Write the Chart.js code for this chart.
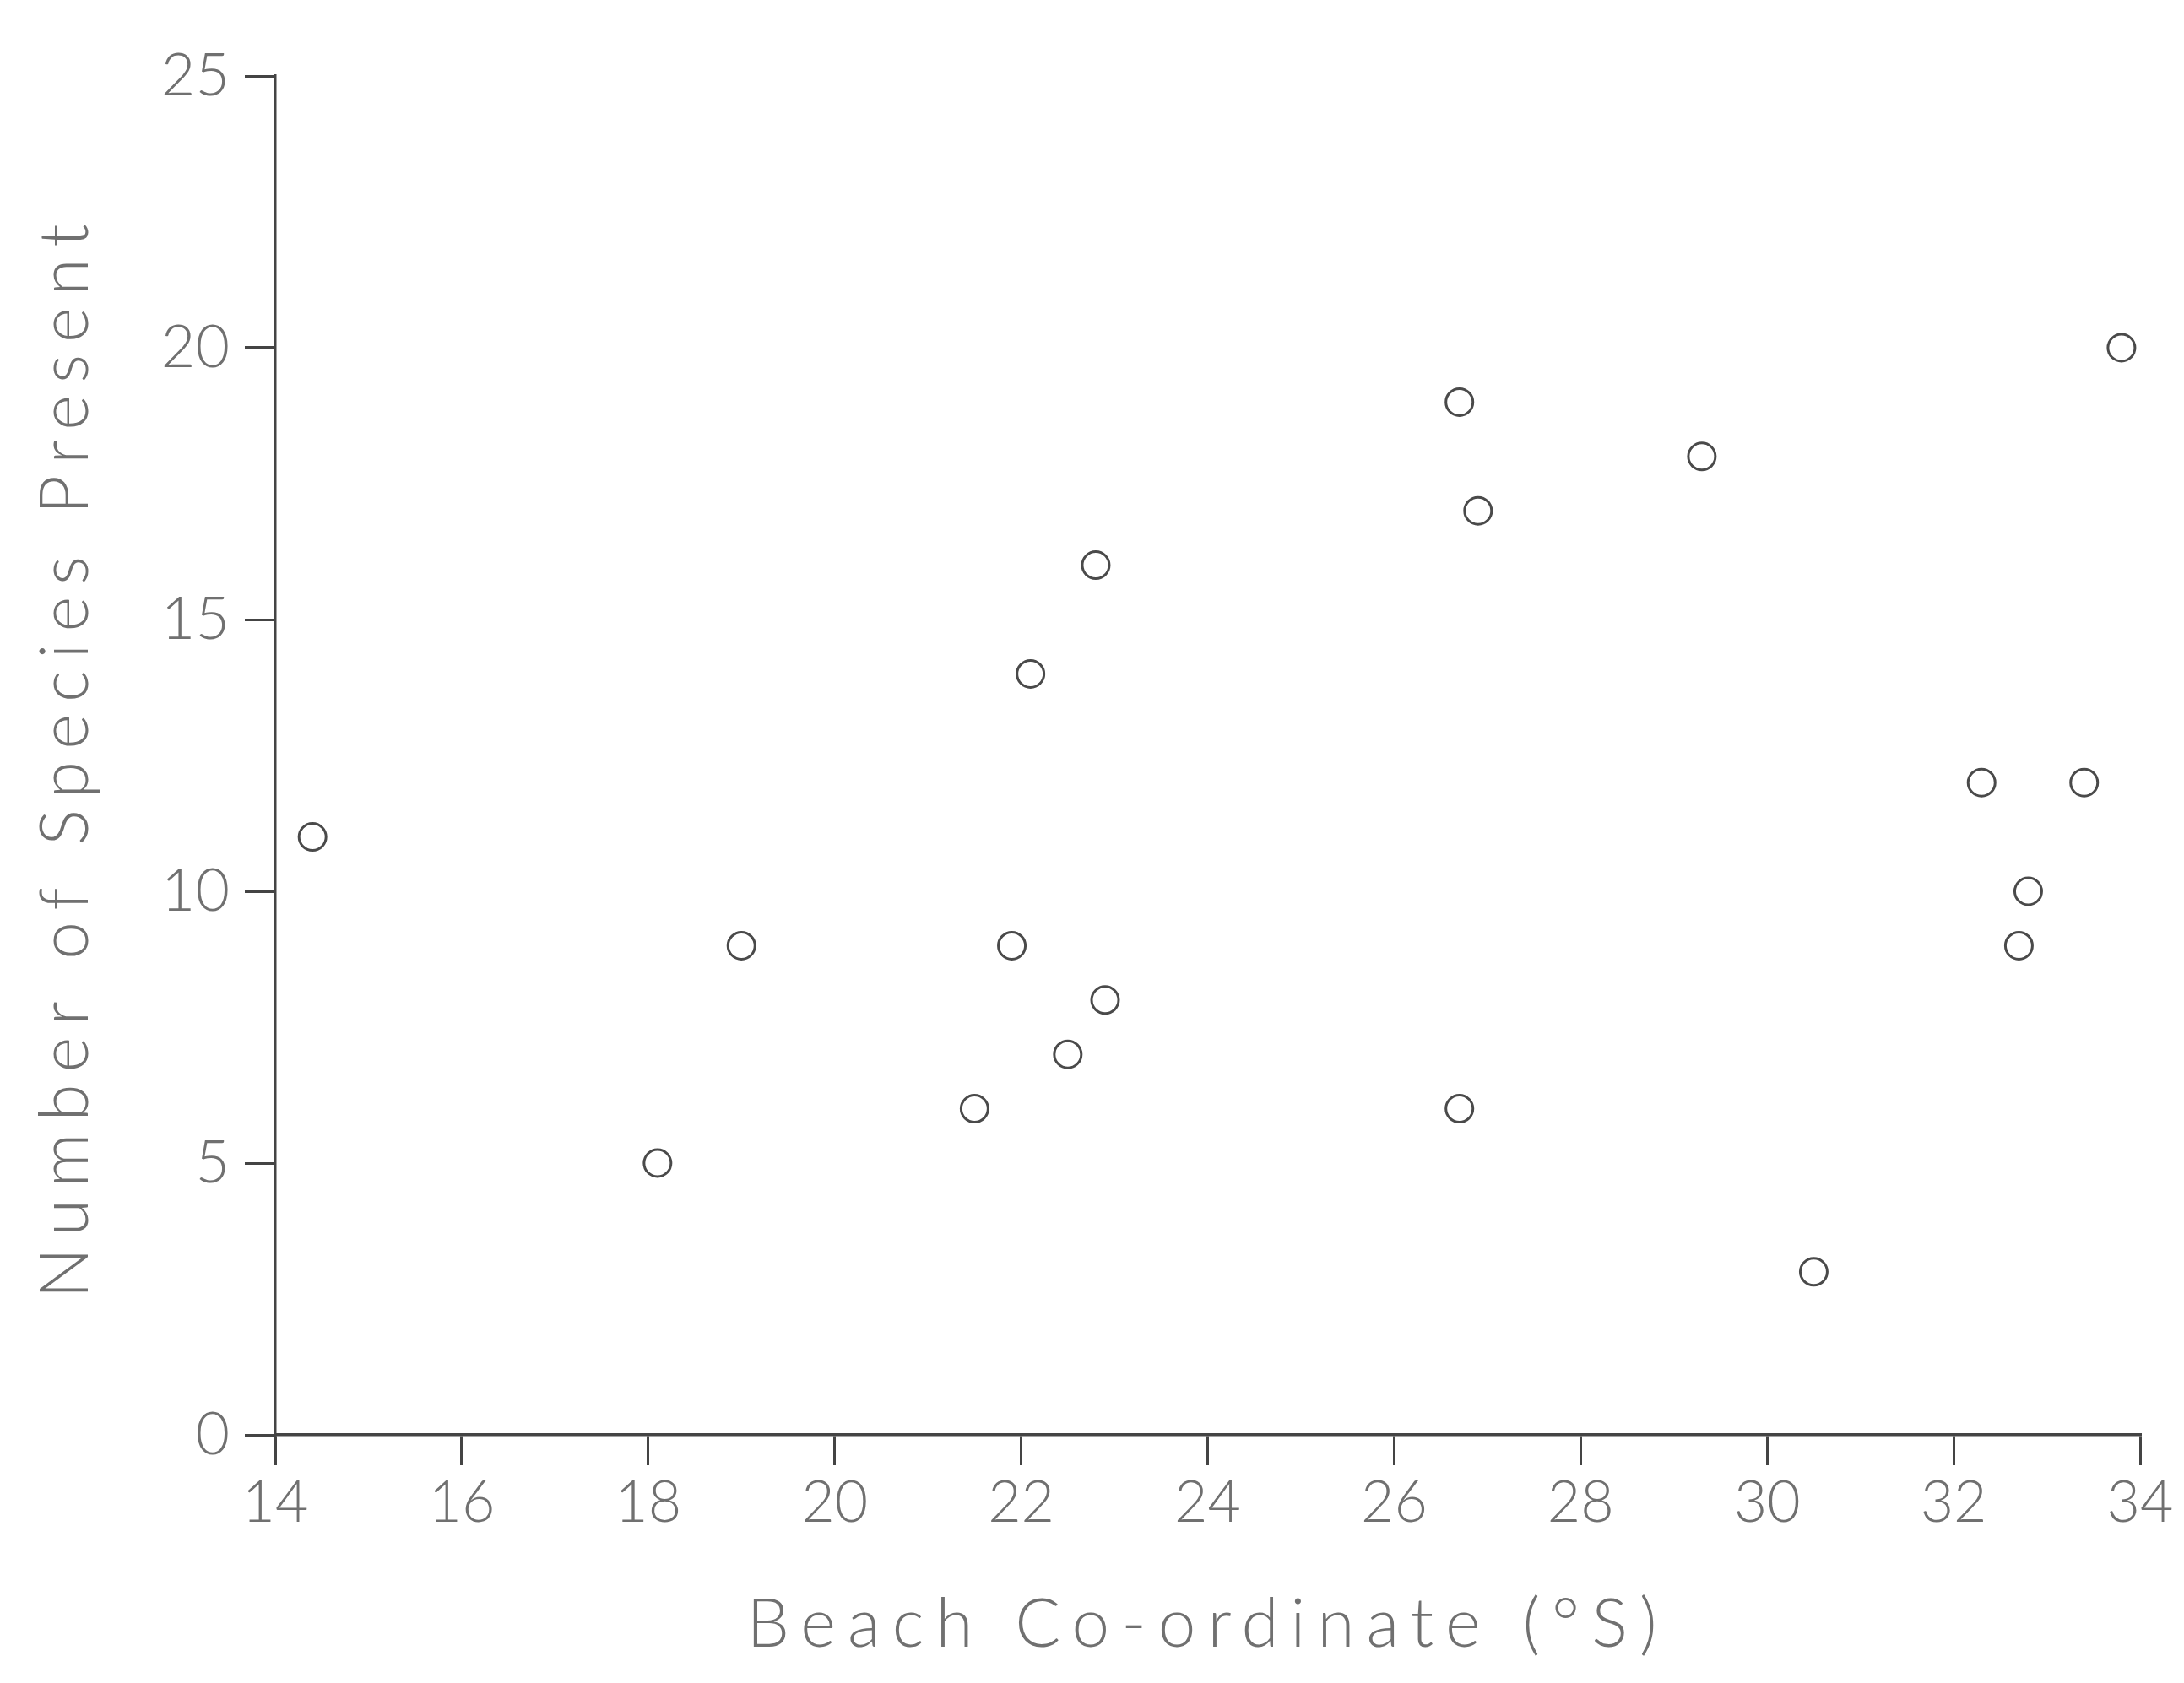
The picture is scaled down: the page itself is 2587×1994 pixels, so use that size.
<!DOCTYPE html>
<html>
<head>
<meta charset="utf-8">
<script src="https://cdn.jsdelivr.net/npm/chart.js@4.4.1/dist/chart.umd.min.js"></script>
<style>
  html, body { margin: 0; padding: 0; background: #ffffff; }
  #c { display: block; }
</style>
</head>
<body>
<canvas id="c" width="2587" height="1994"></canvas>
<script>
// ---- data ----
const latitude     = [14.4, 18.1, 19.0, 21.5, 21.9, 22.1, 22.5, 22.8, 22.9, 26.7, 26.9, 26.7, 29.3, 30.5, 32.3, 33.4, 32.8, 32.7, 33.8];
const speciesCount = [11,   5,    9,    6,    9,    14,   7,    16,   8,    19,   17,   6,    18,   3,    12,   12,   10,   9,    20];
const xTickValues  = [14, 16, 18, 20, 22, 24, 26, 28, 30, 32, 34];
const yTickValues  = [0, 5, 10, 15, 20, 25];
const xTitle = 'Beach Co-ordinate (°S)';
const yTitle = 'Number of Species Present';

const points = latitude.map((x, i) => ({ x: x, y: speciesCount[i] }));

const AXIS = '#444444';
const TEXT = '#707070';
const FONT = 'Lato, "Open Sans", "DejaVu Sans", sans-serif';

const spacingPlugin = {
  id: 'titleSpacing',
  beforeDraw(chart) { chart.ctx.letterSpacing = '14px'; },
  beforeDatasetsDraw(chart) { chart.ctx.letterSpacing = '0px'; }
};

new Chart(document.getElementById('c'), {
  type: 'scatter',
  data: {
    datasets: [{
      data: points,
      pointStyle: 'circle',
      pointRadius: 16,
      pointHoverRadius: 16,
      pointBorderWidth: 3,
      pointBorderColor: '#4a4a4a',
      pointBackgroundColor: 'rgba(255,255,255,0)',
      clip: false
    }]
  },
  options: {
    responsive: false,
    animation: false,
    devicePixelRatio: 1,
    layout: { padding: { top: 90, right: 52, left: 0, bottom: 0 } },
    plugins: { legend: { display: false }, tooltip: { enabled: false } },
    scales: {
      x: {
        type: 'linear',
        min: 14, max: 34,
        afterFit(scale) { scale.height = 294; },
        afterBuildTicks(scale) { scale.ticks = xTickValues.map(v => ({ value: v })); },
        border: { display: true, color: AXIS, width: 3.5 },
        grid: { display: true, drawOnChartArea: false, drawTicks: true, tickLength: 36, color: AXIS, lineWidth: 3 },
        ticks: { z: 1, padding: 4, color: TEXT, font: { family: FONT, size: 68, weight: 300 }, maxRotation: 0 },
        title: { display: true, text: xTitle, color: TEXT, font: { family: FONT, size: 80, weight: 300 }, padding: { top: 0, bottom: 21 } }
      },
      y: {
        type: 'linear',
        min: 0, max: 25,
        afterFit(scale) { scale.width = 326; },
        afterBuildTicks(scale) { scale.ticks = yTickValues.map(v => ({ value: v })); },
        border: { display: true, color: AXIS, width: 3.5 },
        grid: { display: true, drawOnChartArea: false, drawTicks: true, tickLength: 36, color: AXIS, lineWidth: 3 },
        ticks: { z: 1, padding: 18, color: TEXT, font: { family: FONT, size: 70, weight: 300 } },
        title: { display: true, text: yTitle, color: TEXT, font: { family: FONT, size: 80, weight: 300 }, padding: { top: 30, bottom: 0 } }
      }
    }
  },
  plugins: [spacingPlugin]
});
</script>
</body>
</html>
